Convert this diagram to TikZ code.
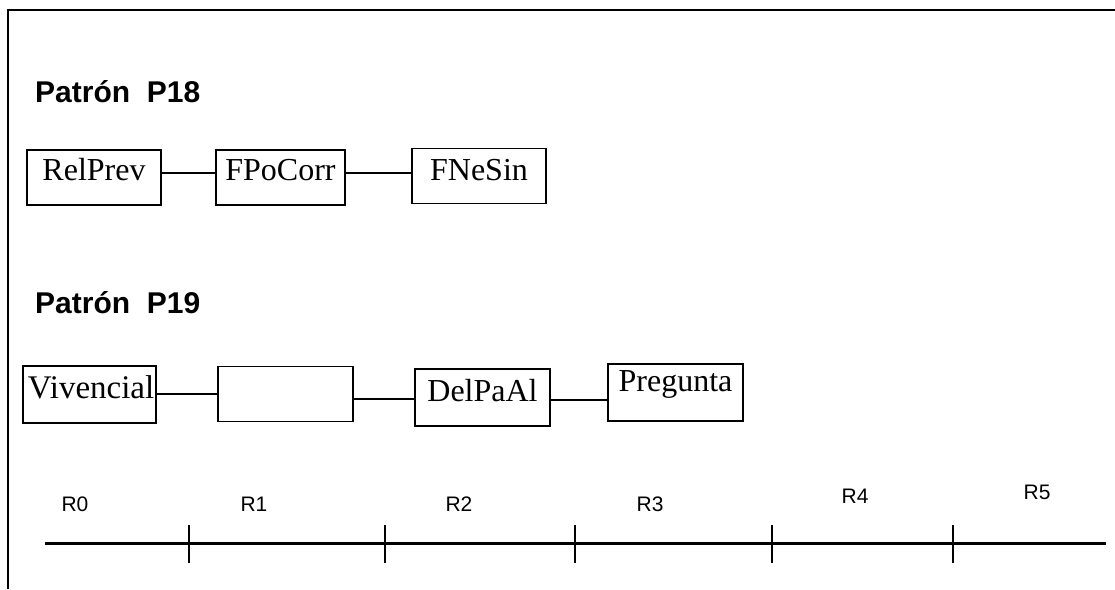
\documentclass[tikz,border=0pt]{standalone}
\usepackage{fontspec}
\setmainfont{Liberation Serif}
\newfontfamily\arialfont{Liberation Sans}
\begin{document}
\begin{tikzpicture}[x=1pt,y=-1pt,
  box/.style={draw,line width=1.5pt,inner xsep=0pt,inner ysep=1pt,
    text height=29pt,text depth=24pt,font=\fontsize{32}{34}\selectfont},
  conn/.style={line width=1.5pt},
  header/.style={anchor=base west,inner sep=0pt,font=\arialfont\bfseries\fontsize{30}{32}\selectfont},
  rlabel/.style={inner sep=0pt,font=\arialfont\fontsize{21}{23}\selectfont},
  tick/.style={line width=2.4pt}]
\useasboundingbox (0,0) rectangle (1115,589);
% frame
\draw[line width=2pt] (8,589) -- (8,10) -- (1115,10);
% headers
\node[header] (h18) at (35,102) {Patrón~~P18};
\node[header] (h19) at (35,313) {Patrón~~P19};
% pattern P18
\node[box,minimum width=134pt] (rel) at (94,177.5) {RelPrev};
\node[box,minimum width=129pt] (fpo) at (280.5,177.5) {FPoCorr};
\node[box,minimum width=134pt,text height=31pt,text depth=22pt] (fne) at (479,176) {FNeSin};
\draw[conn] (rel.east |- 0,173) -- (fpo.west |- 0,173);
\draw[conn] (fpo.east |- 0,173) -- (fne.west |- 0,173);
% pattern P19
\node[box,minimum width=133pt,text width=133pt,align=left,text height=31pt,text depth=24pt,font=\fontsize{33}{35}\selectfont] (viv) at (89.5,394.5) {\hspace*{5pt}Vivencial};
\node[box,minimum width=135pt] (emp) at (285.5,394) {};
\node[box,minimum width=135pt,text height=31pt,text depth=24pt] (del) at (482.5,397.5) {DelPaAl};
\node[box,minimum width=135pt,text height=26pt,text depth=29pt] (pre) at (675.5,392.5) {Pregunta};
\draw[conn] (viv.east |- 0,394) -- (emp.west |- 0,394);
\draw[conn] (emp.east |- 0,399) -- (del.west |- 0,399);
\draw[conn] (del.east |- 0,400) -- (pre.west |- 0,400);
% timeline
\coordinate (t0) at (45,543);
\coordinate (t6) at (1106,543);
\draw[line width=3pt] (t0) -- (t6);
\foreach \x/\n in {189/1,385/2,575/3,772/4,953/5}{
  \coordinate (k\n) at (\x,543);
  \draw[tick] ([yshift=-20pt]k\n) -- ([yshift=18pt]k\n);
}
\node[rlabel] (r0) at (75,504) {R0};
\node[rlabel] (r1) at (254,504) {R1};
\node[rlabel] (r2) at (459,504) {R2};
\node[rlabel] (r3) at (650,504) {R3};
\node[rlabel] (r4) at (855,496) {R4};
\node[rlabel] (r5) at (1037,492) {R5};
\end{tikzpicture}
\end{document}
